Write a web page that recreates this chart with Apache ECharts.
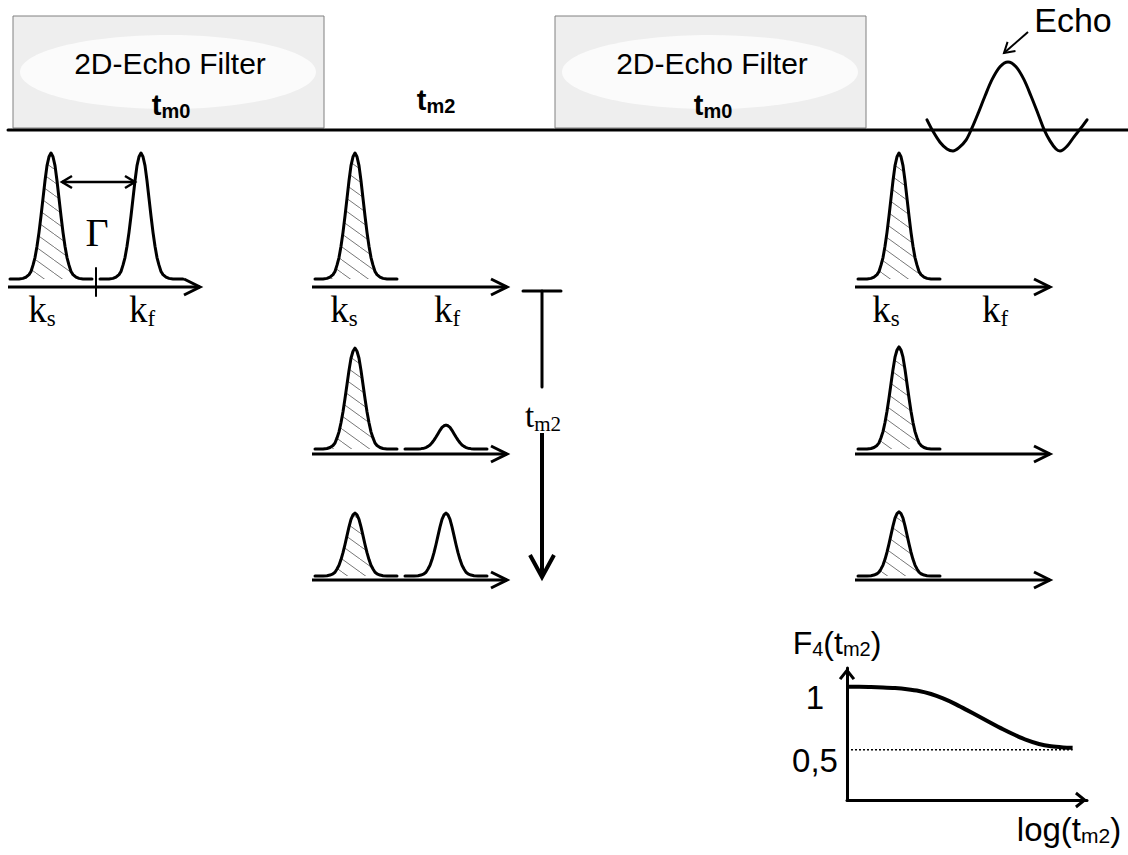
<!DOCTYPE html>
<html>
<head>
<meta charset="utf-8">
<script src="https://cdn.jsdelivr.net/npm/echarts@6/dist/echarts.min.js"></script>
<style>html,body{margin:0;padding:0;background:#fff}#main{width:1128px;height:855px}</style>
</head>
<body>
<div id="main"></div>
<script>
// ---- values ----
// peak amplitude (fraction of a full peak) per column and row: before filter, after tm2, after 2nd filter
var ksAmp = [[1.0], [1.0, 0.8, 0.5], [1.0, 0.81, 0.51]];
var kfAmp = [[1.0], [null, 0.19, 0.5], [null, null, null]];
// normalised peak profile (offset from centre)
var peakOff = [0, 2, 4, 6, 8, 10, 12, 14, 16, 18, 20, 22, 25, 28, 32];
var peakVal = [1, 0.97, 0.9, 0.78, 0.64, 0.5, 0.37, 0.26, 0.17, 0.11, 0.06, 0.035, 0.015, 0.005, 0];
// echo signal: time offset from echo maximum, normalised amplitude
var echoT = [-81, -75, -68, -61, -55, -49, -42, -36, -30, -23, -16, -8, 0, 8, 16, 23, 30, 36, 42, 48, 52, 59, 66, 73, 79];
var echoAmp = [0.15, -0.02, -0.18, -0.28, -0.31, -0.26, -0.15, 0.03, 0.24, 0.5, 0.74, 0.93, 1, 0.93, 0.74, 0.5, 0.24, 0.01, -0.16, -0.28, -0.31, -0.24, -0.1, 0.03, 0.15];
// F4(tm2) against log(tm2)
var logTm2 = [0, 0.05, 0.10, 0.15, 0.20, 0.25, 0.30, 0.35, 0.40, 0.45, 0.50, 0.55, 0.60, 0.65, 0.70, 0.75, 0.80, 0.85, 0.90, 0.94];
var f4 = [1.0, 1.0, 0.998, 0.995, 0.99, 0.981, 0.967, 0.943, 0.908, 0.865, 0.815, 0.765, 0.713, 0.663, 0.617, 0.576, 0.545, 0.527, 0.518, 0.515];
var f4Ticks = [0.5, 1];
var f4TickText = ['0,5', '1'];

// ---- layout ----
var ksX = [51, 355, 899], kfX = [141, 446, null];
var ksSeg = [[10, 92], [315, 397], [858, 940]];
var kfSeg = [[100, 183], [405, 487], null];
var rowBase = [279, 449, 576], rowAxis = [287, 454, 580];
var axisSpan = [[8, 200], [312, 507], [855, 1050]];
var peakH = 126, topY = 130, echoX0 = 1008, echoH = 68;

var hatch = document.createElement('canvas');
hatch.width = 18; hatch.height = 13;
var hc = hatch.getContext('2d');
hc.strokeStyle = '#777'; hc.lineWidth = 1;
hc.beginPath(); hc.moveTo(-18, -13); hc.lineTo(36, 26); hc.stroke();
var hatchFill = {image: hatch, repeat: 'repeat', imageWidth: 18, imageHeight: 13};

var series = [];
function line(pts, w, extra) {
    var s = {type: 'line', xAxisIndex: 0, yAxisIndex: 0, data: pts, symbol: 'none', silent: true, clip: false,
        lineStyle: {color: '#000', width: w || 3, cap: 'round', join: 'round'}, z: 5};
    for (var k in extra) s[k] = extra[k];
    series.push(s);
}
function arrowHead(from, to, len, half) {
    var dx = to[0] - from[0], dy = to[1] - from[1], d = Math.sqrt(dx * dx + dy * dy);
    var ux = dx / d, uy = dy / d, bx = to[0] - ux * len, by = to[1] - uy * len;
    return [[bx - uy * half, by + ux * half], to, [bx + uy * half, by - ux * half]];
}
function arrow(from, to, w, len, half, both) {
    line([from, to], w, {lineStyle: {color: '#000', width: w, cap: 'butt'}});
    line(arrowHead(from, to, len, half), w, {lineStyle: {color: '#000', width: w, join: 'miter'}});
    if (both) line(arrowHead(to, from, len, half), w, {lineStyle: {color: '#000', width: w, join: 'miter'}});
}
function peakPts(seg, cx, base, amp) {
    var pts = [[seg[0], base]], i;
    for (i = peakOff.length - 1; i >= 0; i--) pts.push([cx - peakOff[i], base - amp * peakH * peakVal[i]]);
    for (i = 1; i < peakOff.length; i++) pts.push([cx + peakOff[i], base - amp * peakH * peakVal[i]]);
    pts.push([seg[1], base]);
    return pts;
}

// spectra
for (var c = 0; c < 3; c++) {
    for (var r = 0; r < ksAmp[c].length; r++) {
        var base = rowBase[r];
        line(peakPts(ksSeg[c], ksX[c], base, ksAmp[c][r]), 3, {areaStyle: {color: hatchFill, opacity: 1, origin: base}});
        if (kfAmp[c][r] != null) line(peakPts(kfSeg[c], kfX[c], base, kfAmp[c][r]), 3);
        arrow([axisSpan[c][0], rowAxis[r]], [axisSpan[c][1], rowAxis[r]], 3, 16, 8);
    }
}
line([[96, 268], [96, 296]], 2);                       // tick between ks and kf
arrow([62, 182], [135, 182], 2.5, 10, 6, true);       // Gamma
line([[8, topY], [1128, topY]], 3);                    // time axis
line(echoT.map(function (t, i) { return [echoX0 + t, topY - echoH * echoAmp[i]]; }), 3, {smooth: 0.3});
arrow([1028, 32], [1004, 53], 2, 10, 6);               // Echo pointer
line([[523, 291], [561, 291]], 3);                     // tm2 bar
line([[542, 291], [542, 387]], 3);
arrow([542, 433], [542, 577], 4, 22, 12);

// F4 inset
series.push({type: 'line', xAxisIndex: 1, yAxisIndex: 1, symbol: 'none', smooth: 0.3, silent: true,
    data: logTm2.map(function (x, i) { return [x, f4[i]]; }), lineStyle: {color: '#000', width: 4, join: 'round'}});
series.push({type: 'line', xAxisIndex: 1, yAxisIndex: 1, symbol: 'none', silent: true,
    data: [[0, f4Ticks[0]], [logTm2[logTm2.length - 1], f4Ticks[0]]], lineStyle: {color: '#000', width: 1.5, type: [2, 2]}});

var chevron = 'path://M8,0 L16,10 L13.6,11.8 L8,4.7 L2.4,11.8 L0,10 Z';
var insetLine = {show: true, onZero: false, symbol: ['none', chevron], symbolSize: [17, 12], symbolOffset: [0, -6],
    lineStyle: {color: '#000', width: 3}};

function txt(x, y, parts, o) {
    var S = o.size, s = o.sub || Math.round(S * 0.65), d = o.drop == null ? 3 : o.drop;
    var p = d + 0.85 * (S - s);
    var rich = {
        m: {fontSize: S, lineHeight: S, fontFamily: o.family, fontWeight: o.weight || 'normal', fill: '#000', verticalAlign: 'top'},
        s: {fontSize: s, lineHeight: S, fontFamily: o.family, fontWeight: o.weight || 'normal', fill: '#000', verticalAlign: 'top', padding: [p, 0, 0, 0]}
    };
    var str = parts.map(function (q) { return '{' + (q[1] ? 's' : 'm') + '|' + q[0] + '}'; }).join('');
    return {type: 'text', x: x, y: y, z: 20, silent: true, style: {text: str, rich: rich, align: 'center', verticalAlign: 'middle'}};
}
var sans = 'Liberation Sans', serif = 'Liberation Serif';
var graphics = [];
[13, 555].forEach(function (bx) {
    graphics.push({type: 'rect', z: 1, silent: true, shape: {x: bx, y: 16, width: 311, height: 112}, style: {fill: '#eeeeee', stroke: '#808080', lineWidth: 1}});
    graphics.push({type: 'ellipse', z: 2, silent: true, shape: {cx: bx + 155, cy: 72, rx: 148, ry: 37}, style: {fill: '#fbfbfb'}});
    graphics.push(txt(bx + 157, 63, [['2D-Echo Filter', 0]], {size: 30, family: sans}));
    graphics.push(txt(bx + 158, 105, [['t', 0], ['m0', 1]], {size: 29, sub: 20, drop: 3, family: sans, weight: 'bold'}));
});
graphics.push(txt(436, 100, [['t', 0], ['m2', 1]], {size: 29, sub: 20, drop: 3, family: sans, weight: 'bold'}));
graphics.push(txt(1073, 20, [['Echo', 0]], {size: 34, family: sans}));
graphics.push(txt(97, 232, [['Γ', 0]], {size: 40, family: serif}));
[[42, 142], [344, 447], [886, 995]].forEach(function (xs) {
    graphics.push(txt(xs[0], 309, [['k', 0], ['s', 1]], {size: 37, sub: 23, drop: 5, family: serif}));
    graphics.push(txt(xs[1], 309, [['k', 0], ['f', 1]], {size: 37, sub: 23, drop: 5, family: serif}));
});
graphics.push(txt(543, 416, [['t', 0], ['m2', 1]], {size: 33, sub: 21, drop: 4, family: serif}));
graphics.push(txt(837, 643, [['F', 0], ['4', 1], ['(t', 0], ['m2', 1], [')', 0]], {size: 32, sub: 20, drop: 2, family: sans}));
graphics.push(txt(1069, 829, [['log(t', 0], ['m2', 1], [')', 0]], {size: 33, sub: 21, drop: 2, family: sans}));

var chart = echarts.init(document.getElementById('main'), null, {renderer: 'svg'});
var option = {
    backgroundColor: '#fff', animation: false,
    grid: [{left: 0, top: 0, width: 1128, height: 855}, {left: 847, top: 668, width: 240, height: 132}],
    xAxis: [{type: 'value', min: 0, max: 1128, show: false},
        {gridIndex: 1, type: 'value', min: 0, max: 1, axisLine: insetLine, axisTick: {show: false}, axisLabel: {show: false}, splitLine: {show: false}}],
    yAxis: [{type: 'value', min: 0, max: 855, inverse: true, show: false},
        {gridIndex: 1, type: 'value', min: 0.1, max: 1.15, axisLine: insetLine, axisTick: {show: false}, splitLine: {show: false},
            axisLabel: {customValues: f4Ticks, formatter: function (v) { return f4TickText[f4Ticks.indexOf(v)]; },
                fontSize: 33, fontFamily: sans, color: '#000', align: 'center', verticalAlign: 'top', lineHeight: 22, margin: 32}}],
    graphic: graphics,
    series: series
};
chart.setOption(option);
</script>
</body>
</html>
